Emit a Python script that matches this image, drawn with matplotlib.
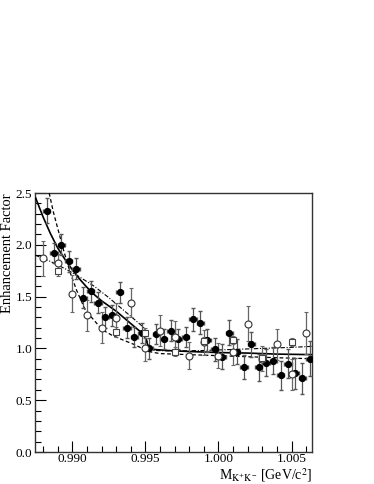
import numpy as np
import matplotlib
matplotlib.use("Agg")
import matplotlib.pyplot as plt
from matplotlib.ticker import MultipleLocator

plt.rcParams['font.family'] = ['Liberation Serif', 'DejaVu Serif']
plt.rcParams['mathtext.fontset'] = 'stix'

# filled points (fine binning)
x_full = [0.98825, 0.98875, 0.98925, 0.98975, 0.99025, 0.99075, 0.99125, 0.99175,
          0.99225, 0.99275, 0.99325, 0.99375, 0.99425, 0.99475, 0.99525, 0.99575,
          0.99625, 0.99675, 0.99725, 0.99775, 0.99825, 0.99875, 0.99925, 0.99975,
          1.00025, 1.00075, 1.00125, 1.00175, 1.00225, 1.00275, 1.00325, 1.00375,
          1.00425, 1.00475, 1.00525, 1.00575, 1.00625]
y_full = [2.33, 1.92, 2.00, 1.84, 1.77, 1.49, 1.55, 1.44,
          1.30, 1.32, 1.54, 1.20, 1.11, 1.15, 1.00, 1.14,
          1.09, 1.17, 1.09, 1.11, 1.28, 1.25, 1.08, 0.99,
          0.92, 1.15, 0.97, 0.82, 1.04, 0.82, 0.86, 0.88,
          0.74, 0.85, 0.76, 0.71, 0.90]
e_full = [0.12, 0.10, 0.10, 0.10, 0.10, 0.10, 0.10, 0.10,
          0.10, 0.10, 0.10, 0.10, 0.10, 0.10, 0.10, 0.10,
          0.10, 0.10, 0.10, 0.10, 0.11, 0.11, 0.11, 0.11,
          0.12, 0.12, 0.12, 0.12, 0.12, 0.13, 0.13, 0.13,
          0.14, 0.14, 0.15, 0.15, 0.17]

# open circles
x_circ = [0.988, 0.989, 0.990, 0.991, 0.992, 0.993, 0.994, 0.995, 0.996, 0.997,
          0.998, 0.999, 1.000, 1.001, 1.002, 1.003, 1.004, 1.005, 1.006]
y_circ = [1.87, 1.82, 1.53, 1.32, 1.20, 1.29, 1.44, 1.00, 1.17, 1.11,
          0.93, 1.06, 0.93, 0.97, 1.24, 0.90, 1.04, 0.75, 1.15]
e_circ = [0.17, 0.09, 0.18, 0.15, 0.15, 0.15, 0.14, 0.12, 0.15, 0.15,
          0.13, 0.12, 0.12, 0.13, 0.17, 0.12, 0.15, 0.15, 0.20]

# open squares
x_sq = [0.989, 0.993, 0.995, 0.997, 0.999, 1.001, 1.003, 1.005]
y_sq = [1.75, 1.16, 1.15, 0.97, 1.07, 1.08, 0.91, 1.06]
e_sq = [0.05, 0.05, 0.05, 0.04, 0.04, 0.04, 0.04, 0.04]

# fit curves
x_solid = [0.98750, 0.98800, 0.98850, 0.98900, 0.98950, 0.99000, 0.99050, 0.99100,
           0.99150, 0.99200, 0.99250, 0.99300, 0.99350, 0.99400, 0.99450, 0.99480,
           0.99500, 0.99522, 0.99560, 0.99650, 0.99800, 1.00000, 1.00200, 1.00400, 1.00640]
y_solid = [2.45, 2.27, 2.11, 1.97, 1.86, 1.76, 1.67, 1.59,
           1.52, 1.46, 1.41, 1.36, 1.30, 1.24, 1.18, 1.15,
           1.10, 1.01, 0.99, 0.98, 0.97, 0.96, 0.955, 0.945, 0.94]

x_dash = [0.98842, 0.98870, 0.98904, 0.98940, 0.98986, 0.99030, 0.99089, 0.99150,
          0.99205, 0.99280, 0.99349, 0.99420, 0.99479, 0.99522, 0.99600, 0.99800,
          1.00000, 1.00200, 1.00400, 1.00640]
y_dash = [2.50, 2.32, 2.14, 1.95, 1.73, 1.56, 1.37, 1.27,
          1.18, 1.12, 1.08, 1.04, 1.00, 0.97, 0.95, 0.94,
          0.93, 0.92, 0.91, 0.90]

x_dd = [0.98747, 0.98850, 0.98950, 0.99050, 0.99150, 0.99250, 0.99350, 0.99450,
        0.99490, 0.99522, 0.99560, 0.99700, 0.99900, 1.00100, 1.00300, 1.00500, 1.00640]
y_dd = [1.90, 1.84, 1.77, 1.69, 1.60, 1.49, 1.37, 1.25,
        1.20, 1.01, 0.98, 0.975, 0.98, 0.99, 1.00, 1.01, 1.02]

fig = plt.figure(figsize=(3.74, 4.84), dpi=100)
ax = fig.add_axes([0.0936, 0.0661, 0.7406, 0.5351])

ax.plot(x_solid, y_solid, color='black', lw=1.2, zorder=4)
ax.plot(x_dash, y_dash, color='black', lw=0.9, ls=(0, (3, 2)), zorder=4)
ax.plot(x_dd, y_dd, color='black', lw=0.8, ls=(0, (4, 1.5, 1, 1.5)), zorder=4)

ax.errorbar(x_full, y_full, yerr=e_full, xerr=0.00025, fmt='o', color='black',
            ms=4.2, mfc='black', mec='black', ecolor='#555555', elinewidth=0.9,
            capsize=1.5, zorder=5)
ax.errorbar(x_circ, y_circ, yerr=e_circ, fmt='o', color='black',
            ms=5, mfc='white', mec='#333333', mew=0.8, ecolor='#666666',
            elinewidth=0.9, capsize=1.5, zorder=5)
ax.errorbar(x_sq, y_sq, yerr=e_sq, fmt='s', color='black',
            ms=4.8, mfc='white', mec='#444444', mew=0.8, ecolor='#666666',
            elinewidth=0.9, capsize=1.5, zorder=5)

ax.set_xlim(0.98745, 1.0064)
ax.set_ylim(0.0, 2.5)
ax.set_xticks([0.990, 0.995, 1.000, 1.005])
ax.set_xticklabels(['0.990', '0.995', '1.000', '1.005'])
ax.xaxis.set_minor_locator(MultipleLocator(0.001))
ax.set_yticks([0.0, 0.5, 1.0, 1.5, 2.0, 2.5])
ax.set_yticklabels(['0.0', '0.5', '1.0', '1.5', '2.0', '2.5'])
ax.yaxis.set_minor_locator(MultipleLocator(0.1))
ax.tick_params(which='both', direction='in', top=False, right=False, labelsize=9.5)
ax.tick_params(which='major', length=8, width=0.8)
ax.tick_params(axis='y', pad=2)
ax.tick_params(axis='x', pad=1)
ax.tick_params(which='minor', length=4, width=0.8)
for sp in ax.spines.values():
    sp.set_linewidth(1.0)
    sp.set_color('#333333')

fig.text(8 / 374, 1 - 193 / 484, 'Enhancement Factor', rotation=90,
         ha='center', va='top', fontsize=10.5)
fig.text(312 / 374, 1 - 480 / 484, r'M$_{\mathrm{K^{+}K^{-}}}$ [GeV/c$^{2}$]',
         ha='right', va='baseline', fontsize=10)

fig.savefig('out.png', dpi=100)
